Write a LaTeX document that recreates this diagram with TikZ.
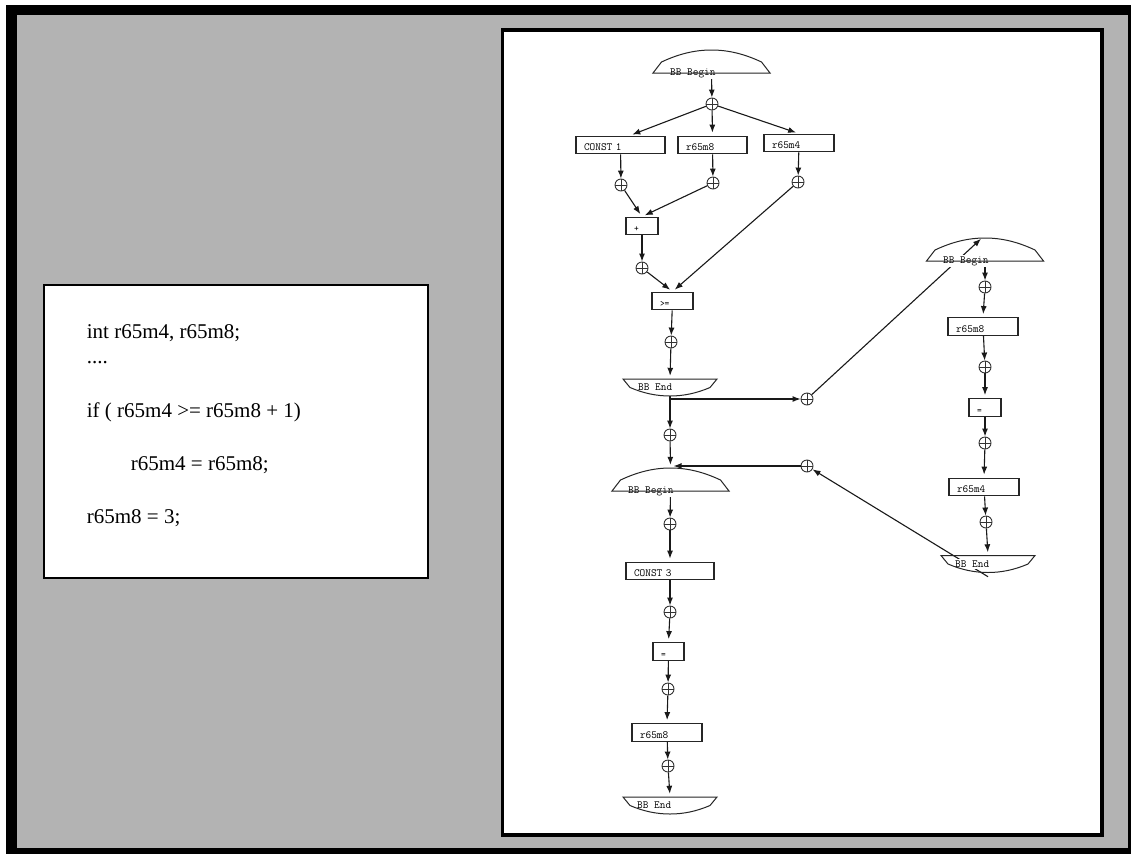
\documentclass[tikz,border=0pt]{standalone}
\usepackage{fontspec}
\newfontfamily\codefont{Liberation Serif}
\usetikzlibrary{arrows.meta,calc}
\definecolor{panelgrey}{RGB}{179,179,179}
\newcommand\labfont{\ttfamily\fontsize{11}{12}\selectfont}
\newcommand\opfont{\ttfamily\fontsize{9}{10}\selectfont}
\newcommand\srcfont{\codefont\fontsize{21}{25}\selectfont}

\begin{document}
\begin{tikzpicture}[x=1pt,y=-1pt,
  wire/.style={draw=black!90, line width=1.1pt},
  arr/.style={wire, -{Latex[length=8pt,width=6pt]}},
  tobox/.style={arr, shorten >=3pt},
  cell/.style={draw=black!85, line width=1.3pt, fill=white, font=\labfont, align=left,
    inner xsep=8pt, inner ysep=0pt, text height=14.5pt, text depth=3pt, text width=#1},
  opcell/.style={cell=#1, font=\opfont},
  joinpt/.style={circle, draw=black!80, line width=0.9pt, fill=white, minimum size=12pt, inner sep=0pt,
    path picture={\draw[black!80, line width=0.8pt]
      (path picture bounding box.north) -- (path picture bounding box.south)
      (path picture bounding box.west) -- (path picture bounding box.east);}},
  beginarea/.style={rectangle, minimum width=117pt, minimum height=23pt, inner sep=0pt},
  endarea/.style={rectangle, minimum width=94pt, minimum height=17pt, inner sep=0pt},
  bbtag/.style={font=\labfont, fill=white, inner sep=1.5pt, anchor=base west},
  shapeline/.style={draw=black!85, line width=1pt},
  codeline/.style={font=\srcfont, anchor=base west, inner sep=0pt},
  bbbegin/.pic={\draw[shapeline] (-58.5,11.5) -- (-50,0.5)
      .. controls (-33,-7.5) and (-17,-11.5) .. (0,-11.5)
      .. controls (17,-11.5) and (33,-7.5) .. (50,0.5) -- (58.5,11.5) -- cycle;},
  bbend/.pic={\draw[shapeline] (-47,-8.5) -- (-40,0)
      .. controls (-26,6) and (-13,8.5) .. (0,8.5)
      .. controls (13,8.5) and (26,6) .. (40,0) -- (47,-8.5) -- cycle;}
]
\useasboundingbox (0,0) rectangle (1131,854);

% frame and panels
\fill[white] (0,0) rectangle (1131,854);
\fill[black] (6,5) rectangle (1131,854);
\fill[panelgrey] (17,15) rectangle (1128,848);
\draw[line width=3.4pt, fill=white] (502.5,30) rectangle (1102,835);
\draw[line width=1.3pt, fill=white] (44,285) rectangle (428,578);

% source fragment
\node[codeline] (l1) at (86.7,338) {int r65m4, r65m8;};
\node[codeline] (l2) at (86.7,363) {....};
\node[codeline] (l3) at (86.7,417) {if ( r65m4 >= r65m8 + 1)};
\node[codeline] (l4) at (130.7,470) {r65m4 = r65m8;};
\node[codeline] (l5) at (86.7,523) {r65m8 = 3;};

% first basic block
\node[beginarea] (b1) at (711.5,61.5) {};
\node[joinpt] (p1) at (712,104) {};
\node[cell=73pt] (const1) at (620.5,145) {CONST 1};
\node[cell=53pt] (m8a) at (712.5,145) {r65m8};
\node[cell=54pt] (m4a) at (799,143) {r65m4};
\node[joinpt] (p2) at (621,185) {};
\node[joinpt] (p3) at (713,183) {};
\node[joinpt] (p4) at (798,182) {};
\node[opcell=16pt] (plus) at (642,226) {+};
\node[joinpt] (p5) at (642,268) {};
\node[opcell=25pt] (ge) at (672.5,301) {>=};
\node[joinpt] (p6) at (671,342) {};
\node[endarea] (e1) at (670,387.5) {};
\node[joinpt] (p7) at (670,435) {};
\node[joinpt] (p8) at (807,399) {};

% then block
\node[beginarea] (b2) at (985,249.5) {};
\node[joinpt] (p9) at (985,287) {};
\node[cell=54pt] (m8b) at (983,326.5) {r65m8};
\node[joinpt] (p10) at (985,367) {};
\node[opcell=16pt] (eqb) at (985,407.5) {=};
\node[joinpt] (p11) at (985,443) {};
\node[cell=54pt] (m4b) at (984,487) {r65m4};
\node[joinpt] (p12) at (986,522) {};
\node[endarea] (e2) at (988,564) {};
\node[joinpt] (p13) at (807,466) {};

% join block
\node[beginarea] (b3) at (670.5,479.5) {};
\node[joinpt] (p14) at (670,524) {};
\node[cell=72pt] (const3) at (670,571) {CONST 3};
\node[joinpt] (p15) at (670,612) {};
\node[opcell=15pt] (eqa) at (668.5,651.5) {=};
\node[joinpt] (p16) at (668,689) {};
\node[cell=54pt] (m8c) at (667,732.5) {r65m8};
\node[joinpt] (p17) at (668,766) {};
\node[endarea] (e3) at (670,805.5) {};

% connectors
\draw[arr] (b1.south) -- (p1);
\draw[tobox] (p1) -- ($(const1.north)+(9,0)$);
\draw[tobox] (p1) -- (m8a.north);
\draw[tobox] (p1) -- (m4a.north);
\draw[arr] (const1) -- (p2);
\draw[arr] (m8a) -- (p3);
\draw[arr] (m4a) -- (p4);
\draw[tobox] (p2) -- (plus.north);
\draw[tobox] (p3) -- (plus.north);
\draw[arr] (plus) -- (p5);
\draw[tobox] (p5) -- (ge.north);
\draw[tobox] (p4) -- (ge.north);
\draw[arr] (ge) -- (p6);
\draw[tobox] (p6) -- (e1.north);
\draw[arr] (e1.south) -- (p7);
\draw[arr] (e1.south) |- (p8);
\draw[arr] (p8) -- ($(b2.north)+(-4,1)$);

\draw[arr] (b2.south) -- (p9);
\draw[tobox] (p9) -- (m8b.north);
\draw[arr] (m8b) -- (p10);
\draw[tobox] (p10) -- (eqb.north);
\draw[arr] (eqb) -- (p11);
\draw[tobox] (p11) -- (m4b.north);
\draw[arr] (m4b) -- (p12);
\draw[tobox] (p12) -- (e2.north);
\draw[arr] ($(e2.south)+(0,4)$) -- (p13);

\draw[tobox] (p13) -- (p13 -| b3.north);
\draw[tobox] (p7) -- (b3.north);
\draw[arr] (b3.south) -- (p14);
\draw[tobox] (p14) -- (const3.north);
\draw[arr] (const3) -- (p15);
\draw[tobox] (p15) -- (eqa.north);
\draw[arr] (eqa) -- (p16);
\draw[tobox] (p16) -- (m8c.north);
\draw[arr] (m8c) -- (p17);
\draw[tobox] (p17) -- (e3.north);

% block boundary labels and outlines
\node[bbtag] (b1t) at (668.5,75) {BB Begin};
\node[bbtag] (b2t) at (941.5,263) {BB Begin};
\node[bbtag] (b3t) at (626.5,493) {BB Begin};
\node[bbtag] (e1t) at (636.5,390) {BB End};
\node[bbtag] (e2t) at (953.5,567) {BB End};
\node[bbtag] (e3t) at (635.5,808) {BB End};
\pic at (b1.center) {bbbegin};
\pic at (b2.center) {bbbegin};
\pic at (b3.center) {bbbegin};
\pic at (e1.center) {bbend};
\pic at (e2.center) {bbend};
\pic at (e3.center) {bbend};
\end{tikzpicture}
\end{document}
